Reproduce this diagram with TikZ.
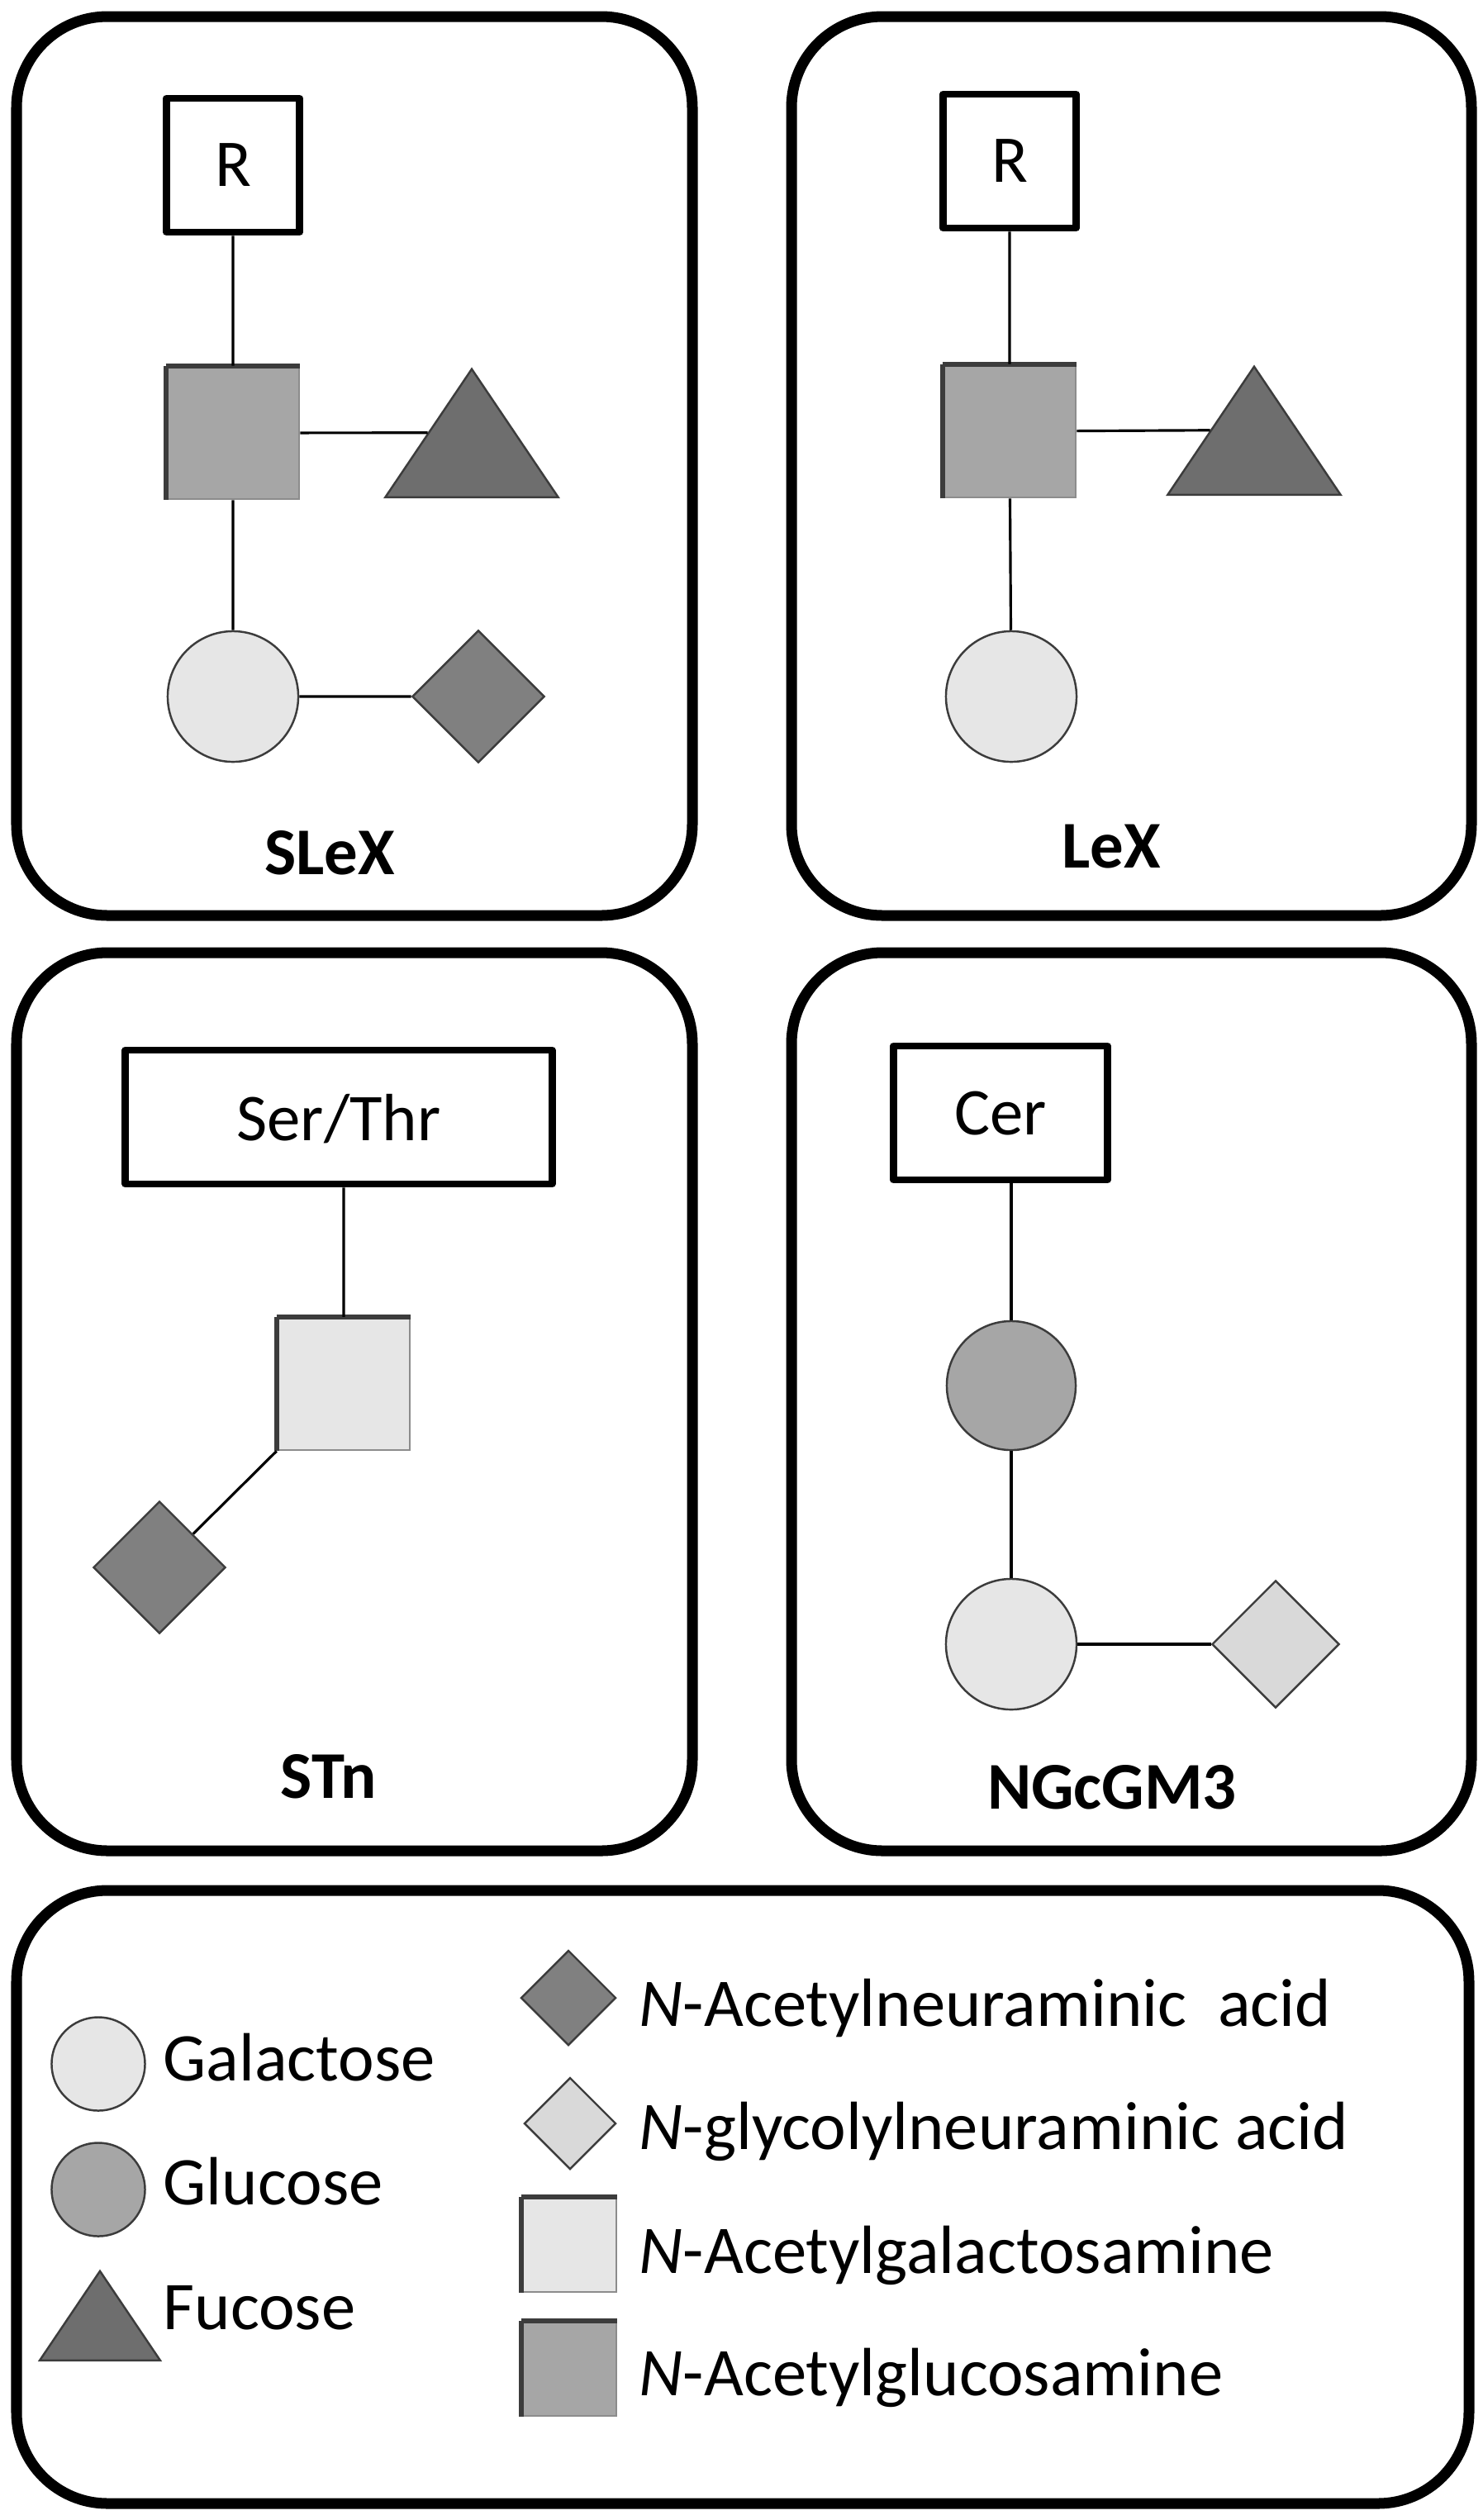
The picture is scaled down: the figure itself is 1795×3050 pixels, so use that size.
\documentclass[tikz,border=0pt]{standalone}
\usepackage{fontspec}
\setmainfont{Carlito}
\usepackage{xcolor}
\usepackage{tikz}
\usetikzlibrary{shapes.geometric}

\definecolor{galfill}{HTML}{E6E6E6}
\definecolor{glcfill}{HTML}{A6A6A6}
\definecolor{fucfill}{HTML}{6E6E6E}
\definecolor{neufill}{HTML}{808080}
\definecolor{ngcfill}{HTML}{D9D9D9}
\definecolor{rim}{HTML}{3C3C3C}
\definecolor{softrim}{HTML}{8C8C8C}

\newcommand{\glyTag}{\fontsize{23}{28}\selectfont}
\newcommand{\glyTitle}{\fontsize{23}{28}\selectfont\bfseries}
\newcommand{\glyKey}{\fontsize{23.5}{28}\selectfont}

\begin{document}
\begin{tikzpicture}[x=0.01cm, y=-0.01cm,
    panel/.style={line width=3.7pt, rounded corners=1.1cm},
    link/.style={line width=0.9pt},
    tag/.style={draw, line width=2.5pt, line join=round, inner sep=0pt, minimum height=1.62cm, text depth=0pt, font=\glyTag},
    title/.style={inner sep=0pt, text depth=0pt, font=\glyTitle},
    entry/.style={anchor=base west, inner sep=0pt, font=\glyKey},
    sugar/.style={draw=rim, line width=0.7pt, inner sep=0pt},
    gal/.style={sugar, circle, fill=galfill, minimum size=#1}, gal/.default=1.58cm,
    glc/.style={sugar, circle, fill=glcfill, minimum size=#1}, glc/.default=1.56cm,
    fuc/.style={sugar, isosceles triangle, isosceles triangle apex angle=68,
      shape border rotate=90, anchor=lower side, fill=fucfill, minimum size=#1}, fuc/.default=1.55cm,
    neu/.style={sugar, diamond, aspect=1, fill=neufill, minimum size=#1}, neu/.default=1.6cm,
    ngc/.style={sugar, diamond, aspect=1, fill=ngcfill, minimum size=#1}, ngc/.default=1.54cm,
    rimedge/.style={draw=rim, line width=1.6pt},
    hexnac/.style={sugar, rectangle, draw=softrim, minimum size=#1,
      append after command={(\tikzlastnode.south west) edge[rimedge] (\tikzlastnode.north west)
        (\tikzlastnode.north west) edge[rimedge] (\tikzlastnode.north east)}},
    galnac/.style={hexnac=#1, fill=galfill}, galnac/.default=1.6cm,
    glcnac/.style={hexnac=#1, fill=glcfill}, glcnac/.default=1.6cm]
    \useasboundingbox (0,0) rectangle (1795,3050);

    % SLeX
    \draw[panel] (20,20) rectangle (838,1108);
    \node[tag, minimum width=1.61cm] (r1) at (282,200) {R};
    \node[glcnac] (sq1) at (282,524) {};
    \node[fuc] (fu1) at (571,603) {};
    \node[gal] (ga1) at (282,843) {};
    \node[neu] (ne1) at (579,843) {};
    \node[title] (t1) at (399,1032) {SLeX};
    \draw[link] (r1) -- (sq1) (sq1) -- (fu1.left side) (sq1) -- (ga1) (ga1) -- (ne1);

    % LeX
    \draw[panel] (958,20) rectangle (1781,1108);
    \node[tag, minimum width=1.61cm] (r2) at (1222,195) {R};
    \node[glcnac] (sq2) at (1222,522) {};
    \node[fuc] (fu2) at (1518,600) {};
    \node[gal] (ga2) at (1224,843) {};
    \node[title] (t2) at (1345,1024) {LeX};
    \draw[link] (r2) -- (sq2) (sq2) -- (fu2.left side) (sq2) -- (ga2);

    % STn
    \draw[panel] (20,1153) rectangle (838,2240);
    \node[tag, minimum width=5.16cm] (ser) at (410,1352) {Ser/Thr};
    \node[galnac] (sq3) at (416,1675) {};
    \node[neu] (ne3) at (193,1897) {};
    \node[title] (t3) at (398,2150) {STn};
    \draw[link] (sq3 |- ser.south) -- (sq3) (sq3.south west) -- (ne3);

    % NGcGM3
    \draw[panel] (958,1153) rectangle (1781,2240);
    \node[tag, minimum width=2.59cm] (cer) at (1211,1347) {Cer};
    \node[glc] (gc4) at (1224,1677) {};
    \node[gal] (ga4) at (1224,1990) {};
    \node[ngc] (ng4) at (1544,1990) {};
    \node[title] (t4) at (1346,2163) {NGcGM3};
    \draw[link] (gc4 |- cer.south) -- (gc4) (gc4) -- (ga4) (ga4) -- (ng4);

    % legend
    \draw[panel] (20,2288) rectangle (1778,3030);
    \node[gal=1.13cm] (galkey) at (119,2498) {};
    \node[glc=1.13cm] (glckey) at (119,2650) {};
    \node[fuc=1.08cm] (fuckey) at (121,2858) {};
    \node[entry] (galtxt) at (197,2518) {Galactose};
    \node[entry] (glctxt) at (197,2668) {Glucose};
    \node[entry] (fuctxt) at (197,2819) {Fucose};
    \node[neu=1.15cm] (neukey) at (688,2418) {};
    \node[ngc=1.11cm] (ngckey) at (690,2570) {};
    \node[galnac=1.14cm] (galnackey) at (689,2717) {};
    \node[glcnac=1.14cm] (glcnackey) at (689,2867) {};
    \node[entry] (neutxt) at (773,2452) {\textit{N}-Acetylneuraminic~~acid};
    \node[entry] (ngctxt) at (773,2601) {\textit{N}-glycolylneuraminic acid};
    \node[entry] (galnactxt) at (773,2751) {\textit{N}-Acetylgalactosamine};
    \node[entry] (glcnactxt) at (773,2899) {\textit{N}-Acetylglucosamine};
\end{tikzpicture}
\end{document}
